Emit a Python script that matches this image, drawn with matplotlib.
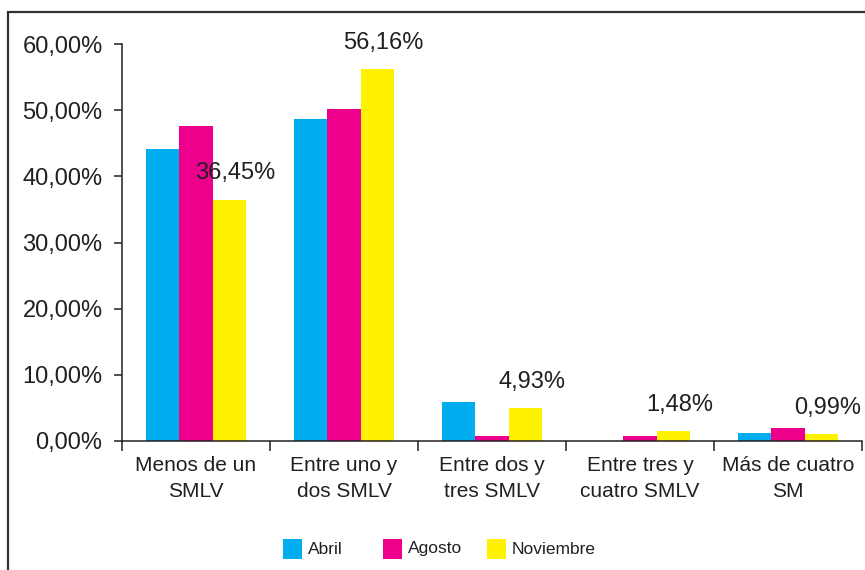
import matplotlib
matplotlib.use("Agg")
import matplotlib.pyplot as plt
from matplotlib.patches import Rectangle
import numpy as np

# --- datos (lectura del gráfico) ---
categorias = ["Menos de un\nSMLV", "Entre uno y\ndos SMLV", "Entre dos y\ntres SMLV",
              "Entre tres y\ncuatro SMLV", "Más de cuatro\nSM"]
abril = [44.2, 48.6, 5.9, 0.0, 1.25]
agosto = [47.6, 50.2, 0.75, 0.7, 1.95]
noviembre = [36.45, 56.16, 4.93, 1.48, 0.99]
etiquetas_nov = ["36,45%", "56,16%", "4,93%", "1,48%", "0,99%"]
yticks = [0, 10, 20, 30, 40, 50, 60]
ytick_labels = ["0,00%", "10,00%", "20,00%", "30,00%", "40,00%", "50,00%", "60,00%"]

series = [("Abril", abril, "#00AEEF"),
          ("Agosto", agosto, "#EC008C"),
          ("Noviembre", noviembre, "#FFF200")]

INK = "#231f20"
FONT = ["Liberation Sans", "DejaVu Sans"]

fig = plt.figure(figsize=(8.65, 5.70), dpi=100)
ax = fig.add_axes([122 / 865, 1 - 441 / 570, 740 / 865, 397 / 570])

x = np.arange(len(categorias))
w = 0.225
for i, (nombre, vals, color) in enumerate(series):
    ax.bar(x + (i - 1) * w, vals, width=w, color=color, label=nombre, zorder=2)

# etiquetas de noviembre
for xi, v, txt in zip(x, noviembre, etiquetas_nov):
    ax.annotate(txt, xy=(xi + w, v), xytext=(4.5, 19), textcoords="offset points",
                ha="center", va="center", fontsize=17, color=INK, family=FONT)

ax.set_xlim(-0.5, len(categorias) - 0.5)
ax.set_ylim(0, 60)

ax.set_yticks(yticks)
ax.set_yticklabels(ytick_labels, family=FONT, fontsize=17, color=INK)
ax.tick_params(axis="y", direction="out", length=6, width=1.1, color=INK, pad=8)

ax.set_xticks(x)
ax.set_xticklabels(categorias, family=FONT, fontsize=15, color=INK,
                   linespacing=1.45)
ax.set_xticks(np.arange(-0.5, len(categorias)), minor=True)
ax.tick_params(axis="x", which="major", length=0, pad=11)
ax.tick_params(axis="x", which="minor", direction="out", length=7, width=1.1, color=INK)

for s in ["top", "right"]:
    ax.spines[s].set_visible(False)
for s in ["left", "bottom"]:
    ax.spines[s].set_color(INK)
    ax.spines[s].set_linewidth(1.1)

# leyenda (cuadros + texto en coordenadas de figura)
ley_x = [283, 383, 487]
ley_y = 549
for (nombre, _, color), px in zip(series, ley_x):
    fig.patches.append(Rectangle((px / 865, 1 - (ley_y + 10) / 570), 19 / 865, 20 / 570,
                                 transform=fig.transFigure, facecolor=color,
                                 edgecolor="none"))
    fig.text((px + 25) / 865, 1 - ley_y / 570, nombre, ha="left", va="center",
             fontsize=12.5, color=INK, family=FONT)

# marco exterior (recortado a la derecha y abajo)
fig.patches.append(Rectangle((8 / 865, -0.2), 2, 1.2 - 11.5 / 570,
                             transform=fig.transFigure, fill=False,
                             edgecolor="#333333", linewidth=1.6))

fig.savefig("out.png", dpi=100)
